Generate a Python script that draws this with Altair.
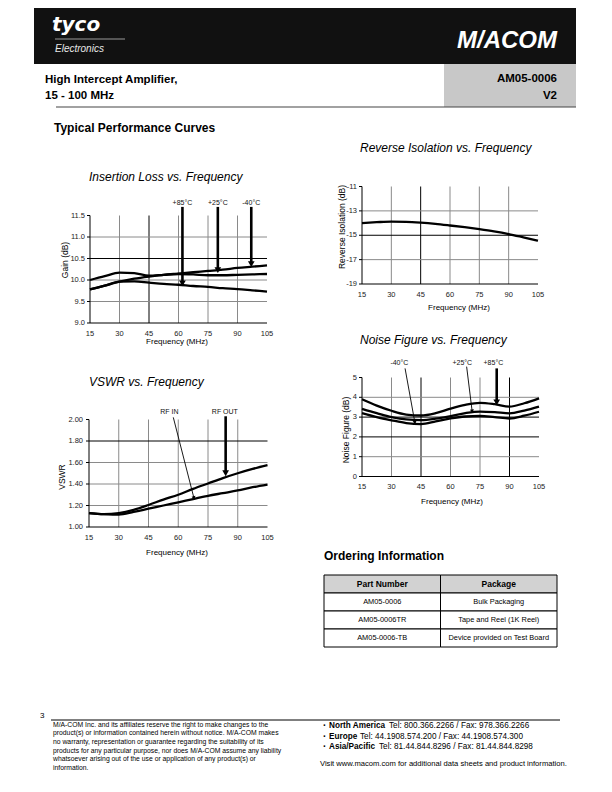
import math
import altair as alt
import pandas as pd

FONT = "Liberation Sans"
GRAY = "#8a8a8a"


def c(v):
    return v - 8


# ---------------- data ----------------
freq = [15, 22.5, 30, 37.5, 45, 52.5, 60, 67.5, 75, 82.5, 90, 97.5, 105]

il_m40 = [9.78, 9.87, 9.96, 10.03, 10.08, 10.12, 10.15, 10.18, 10.21, 10.24, 10.28, 10.31, 10.34]
il_p25 = [10.00, 10.09, 10.17, 10.16, 10.10, 10.12, 10.14, 10.13, 10.11, 10.11, 10.12, 10.13, 10.14]
il_p85 = [9.78, 9.87, 9.96, 9.97, 9.94, 9.91, 9.89, 9.86, 9.84, 9.81, 9.79, 9.76, 9.73]

ri_val = [-14.0, -13.93, -13.88, -13.9, -13.97, -14.07, -14.2, -14.34, -14.5, -14.68, -14.9, -15.17, -15.45]

vswr_out = [1.13, 1.12, 1.13, 1.16, 1.205, 1.255, 1.30, 1.355, 1.405, 1.455, 1.50, 1.54, 1.575]
vswr_in = [1.13, 1.12, 1.115, 1.14, 1.17, 1.20, 1.23, 1.26, 1.29, 1.315, 1.34, 1.37, 1.395]

nf_p85 = [3.90, 3.58, 3.32, 3.13, 3.08, 3.20, 3.43, 3.62, 3.72, 3.65, 3.53, 3.70, 3.95]
nf_p25 = [3.42, 3.20, 3.00, 2.88, 2.85, 2.92, 3.05, 3.20, 3.28, 3.25, 3.19, 3.33, 3.53]
nf_m40 = [3.20, 3.00, 2.84, 2.70, 2.65, 2.78, 2.93, 3.03, 3.06, 3.00, 2.93, 3.07, 3.27]

x_ticks = [15, 30, 45, 60, 75, 90, 105]
x_tick_labels = ["15", "30", "45", "60", "75", "90", "105"]

il_y_ticks = [11.5, 11.0, 10.5, 10.0, 9.5, 9.0]
il_y_labels = ["11.5", "11.0", "10.5", "10.0", "9.5", "9.0"]
ri_y_ticks = [-11, -13, -15, -17, -19]
ri_y_labels = ["-11", "-13", "-15", "-17", "-19"]
vs_y_ticks = [2.0, 1.8, 1.6, 1.4, 1.2, 1.0]
vs_y_labels = ["2.00", "1.80", "1.60", "1.40", "1.20", "1.00"]
nf_y_ticks = [5, 4, 3, 2, 1, 0]
nf_y_labels = ["5", "4", "3", "2", "1", "0"]

tbl_cols = ["Part Number", "Package"]
tbl_parts = ["AM05-0006", "AM05-0006TR", "AM05-0006-TB"]
tbl_pkgs = ["Bulk Packaging", "Tape and Reel (1K Reel)", "Device provided on Test Board"]


# ---------------- helpers ----------------
def one():
    return pd.DataFrame({"t": [""]})


def txt(s, x, y, size=8, weight="normal", style="normal", align="left",
        color="#000", angle=None, baseline="middle", font=FONT, line_height=None):
    kw = dict(align=align, baseline=baseline, fontSize=size, fontWeight=weight,
              fontStyle=style, color=color, font=font)
    if angle is not None:
        kw["angle"] = angle
    if line_height is not None:
        kw["lineHeight"] = line_height
        kw["lineBreak"] = "\n"
    return alt.Chart(pd.DataFrame({"t": [s]})).mark_text(**kw).encode(
        x=alt.value(c(x)), y=alt.value(c(y)), text="t:N")


def box(x0, y0, x1, y1, fill):
    return alt.Chart(one()).mark_rect(color=fill).encode(
        x=alt.value(c(x0)), x2=alt.value(c(x1)), y=alt.value(c(y0)), y2=alt.value(c(y1)))


def hline(x0, x1, y, color="#000", width=1):
    return alt.Chart(one()).mark_rule(color=color, strokeWidth=width).encode(
        x=alt.value(c(x0)), x2=alt.value(c(x1)), y=alt.value(c(y)))


def panel(px, ydom, yticks, ylabels, series, gv_gray, gv_dark, gh_gray, gh_dark,
          arrows, labels, ylab_dx=-5):
    x0, x1, ytop, ybot = px
    ymin, ymax = ydom
    xs = alt.Scale(domain=[15, 105], range=[c(x0), c(x1)], nice=False, zero=False)
    ys = alt.Scale(domain=[ymin, ymax], range=[c(ybot), c(ytop)], nice=False, zero=False)

    def X(f):
        return alt.X(f, type="quantitative", scale=xs, axis=None)

    def Y(f):
        return alt.Y(f, type="quantitative", scale=ys, axis=None)

    layers = []
    for vals, col in ((gv_gray, GRAY), (gv_dark, "#000")):
        if vals:
            d = pd.DataFrame({"x": vals, "ya": [ymin] * len(vals), "yb": [ymax] * len(vals)})
            layers.append(alt.Chart(d).mark_rule(color=col, strokeWidth=1).encode(
                x=X("x"), y=Y("ya"), y2="yb"))
    for vals, col in ((gh_gray, GRAY), (gh_dark, "#000")):
        if vals:
            d = pd.DataFrame({"y": vals, "xa": [15] * len(vals), "xb": [105] * len(vals)})
            layers.append(alt.Chart(d).mark_rule(color=col, strokeWidth=1).encode(
                x=X("xa"), x2="xb", y=Y("y")))
    # axis lines
    ax = pd.DataFrame({"xa": [15, 15], "xb": [15, 105], "ya": [ymin, ymin], "yb": [ymax, ymin]})
    layers.append(alt.Chart(ax).mark_rule(color="#000", strokeWidth=1).encode(
        x=X("xa"), x2="xb", y=Y("ya"), y2="yb"))
    # left ticks
    tk = pd.DataFrame({"y": yticks, "xa": [15] * len(yticks), "lab": ylabels})
    layers.append(alt.Chart(tk).mark_rule(color="#000", strokeWidth=1, xOffset=-3).encode(
        x=X("xa"), x2="xa", y=Y("y")))
    layers.append(alt.Chart(tk).mark_text(align="right", baseline="middle", dx=ylab_dx,
                                          fontSize=7.5, font=FONT, color="#222").encode(
        x=X("xa"), y=Y("y"), text="lab:N"))
    xt = pd.DataFrame({"x": x_ticks, "lab": x_tick_labels, "ya": [ymin] * len(x_ticks)})
    layers.append(alt.Chart(xt).mark_text(align="center", baseline="middle", dy=10.5,
                                          fontSize=7.5, font=FONT, color="#222").encode(
        x=X("x"), y=Y("ya"), text="lab:N"))
    # curves
    rows = []
    for name, vals in series:
        for f, v in zip(freq, vals):
            rows.append({"f": f, "v": v, "s": name})
    layers.append(alt.Chart(pd.DataFrame(rows)).mark_line(
        color="#000", strokeWidth=2.3, interpolate="monotone").encode(
        x=X("f"), y=Y("v"), detail="s:N"))
    # arrows
    sx = (x1 - x0) / 90.0
    sy = (ybot - ytop) / (ymax - ymin)
    for (xa, ya, xb, yb, thick) in arrows:
        d = pd.DataFrame({"xa": [xa], "ya": [ya], "xb": [xb], "yb": [yb]})
        layers.append(alt.Chart(d).mark_rule(color="#000", strokeWidth=2.6 if thick else 0.9).encode(
            x=X("xa"), x2="xb", y=Y("ya"), y2="yb"))
        dxp = (xb - xa) * sx
        dyp = -(yb - ya) * sy
        ang = (-math.degrees(math.atan2(dxp, dyp))) % 360
        layers.append(alt.Chart(d).mark_point(shape="triangle-down", filled=True, color="#000",
                                              opacity=1, size=45 if thick else 16,
                                              angle=ang).encode(x=X("xb"), y=Y("yb")))
    if labels:
        d = pd.DataFrame({"x": [l[0] for l in labels], "y": [l[1] for l in labels],
                          "t": [l[2] for l in labels]})
        layers.append(alt.Chart(d).mark_text(fontSize=7, font=FONT, color="#111",
                                             align="center", baseline="middle").encode(
            x=X("x"), y=Y("y"), text="t:N"))
    return alt.layer(*layers)


# ---------------- panels ----------------
p_il = panel((90, 267, 215.5, 323), (9.0, 11.5), il_y_ticks, il_y_labels,
             [("-40°C", il_m40), ("+25°C", il_p25), ("+85°C", il_p85)],
             [30, 60, 75, 90], [45], [11.0, 10.0, 9.5], [10.5],
             [(62, 11.7, 62, 9.92, True), (80, 11.7, 80, 10.23, True), (97, 11.7, 97, 10.37, True)],
             [(62, 11.8, "+85°C"), (80, 11.8, "+25°C"), (97, 11.8, "-40°C")])

p_ri = panel((362, 538, 186.5, 284), (-19, -11), ri_y_ticks, ri_y_labels,
             [("S12", ri_val)],
             [30, 60, 75, 90], [45], [-13, -17], [-15], [], [])

p_vs = panel((89, 267.5, 419.5, 527), (1.0, 2.0), vs_y_ticks, vs_y_labels,
             [("RF OUT", vswr_out), ("RF IN", vswr_in)],
             [30, 45, 60, 75, 90], [], [1.6, 1.4, 1.2], [1.8],
             [(57.5, 2.02, 67.9, 1.27, False), (83.9, 2.03, 83.9, 1.50, True)],
             [(55.5, 2.07, "RF IN"), (83.5, 2.07, "RF OUT")], ylab_dx=-6)

p_nf = panel((362, 539, 377.5, 476.5), (0, 5), nf_y_ticks, nf_y_labels,
             [("+85°C", nf_p85), ("+25°C", nf_p25), ("-40°C", nf_m40)],
             [30, 60, 75], [45, 90], [4, 1], [3, 2],
             [(36.9, 5.46, 41.9, 2.72, False), (68.2, 5.55, 71.0, 3.30, False),
              (83.5, 5.46, 83.5, 3.74, True)],
             [(34.0, 5.72, "-40°C"), (66.0, 5.72, "+25°C"), (81.8, 5.72, "+85°C")])

panel_text = [
    txt("Insertion Loss vs. Frequency", 89, 177, size=12, style="italic"),
    txt("Reverse Isolation vs. Frequency", 360, 148, size=12, style="italic"),
    txt("VSWR vs. Frequency", 89, 382, size=12, style="italic"),
    txt("Noise Figure vs. Frequency", 360, 340, size=12, style="italic"),
    txt("Gain (dB)", 65, 260, size=8.5, angle=270, align="center"),
    txt("Reverse Isolation (dB)", 342, 227, size=8.5, angle=270, align="center"),
    txt("VSWR", 62, 477, size=8.5, angle=270, align="center"),
    txt("Noise Figure (dB)", 346, 430, size=8.5, angle=270, align="center"),
    txt("Frequency (MHz)", 177, 342, size=8, align="center"),
    txt("Frequency (MHz)", 459, 308, size=8, align="center"),
    txt("Frequency (MHz)", 177, 553, size=8, align="center"),
    txt("Frequency (MHz)", 452, 502, size=8, align="center"),
]

# ---------------- table ----------------
tbl_rows = ["hdr"] + tbl_parts
txs = alt.Scale(domain=tbl_cols, range=[c(324), c(557)], paddingInner=0, paddingOuter=0)
tys = alt.Scale(domain=tbl_rows, range=[c(575), c(647)], paddingInner=0, paddingOuter=0)
hdr_df = pd.DataFrame({"col": tbl_cols, "row": ["hdr", "hdr"], "t": tbl_cols})
body_rows = []
for p, k in zip(tbl_parts, tbl_pkgs):
    body_rows.append({"col": tbl_cols[0], "row": p, "t": p})
    body_rows.append({"col": tbl_cols[1], "row": p, "t": k})
body_df = pd.DataFrame(body_rows)
TX = alt.X("col:N", scale=txs, axis=None, sort=None)
TY = alt.Y("row:N", scale=tys, axis=None, sort=None)
table = alt.layer(
    alt.Chart(hdr_df).mark_rect(fill="#d2d2d2", stroke="#000", strokeWidth=1).encode(x=TX, y=TY),
    alt.Chart(body_df).mark_rect(fill="#ffffff", stroke="#000", strokeWidth=1).encode(x=TX, y=TY),
    alt.Chart(hdr_df).mark_text(fontSize=8.5, fontWeight="bold", font=FONT, color="#000",
                                baseline="middle").encode(x=TX, y=TY, text="t:N"),
    alt.Chart(body_df).mark_text(fontSize=7.4, font=FONT, color="#000",
                                 baseline="middle").encode(x=TX, y=TY, text="t:N"),
)

# ---------------- page furniture ----------------
header = [
    box(34, 0, 576, 64, "#111111"),
    box(444, 64, 576, 107, "#c8c8c8"),
    hline(56, 576, 107, color="#444", width=1.2),
    txt("tyco", 52, 25, size=20, weight="bold", style="italic", color="#fff", font="DejaVu Sans"),
    hline(55, 125, 39, color="#9a9a9a", width=1),
    txt("Electronics", 55, 49, size=10, style="italic", color="#e8e8e8"),
    txt("M/ACOM", 557, 41, size=24, weight="bold", style="italic", color="#fff", align="right"),
    txt("High Intercept Amplifier,", 45, 80, size=11.5, weight="bold"),
    txt("15 - 100 MHz", 45, 96, size=11.5, weight="bold"),
    txt("AM05-0006", 557, 79, size=11.5, weight="bold", align="right"),
    txt("V2", 557, 96, size=11.5, weight="bold", align="right"),
    txt("Typical Performance Curves", 54, 128, size=12, weight="bold"),
    txt("Ordering Information", 324, 556, size=12, weight="bold"),
]

legal = ("M/A-COM Inc. and its affiliates reserve the right to make changes to the\n"
         "product(s) or information contained herein without notice. M/A-COM makes\n"
         "no warranty, representation or guarantee regarding the suitability of its\n"
         "products for any particular purpose, nor does M/A-COM assume any liability\n"
         "whatsoever arising out of the use or application of any product(s) or\n"
         "information.")

footer = [
    txt("3", 40, 716, size=8),
    hline(51, 560, 720, color="#000", width=1),
    txt(legal, 53, 721.5, size=6.8, baseline="top", line_height=8.7),
    txt("·", 323, 726, size=10, weight="bold"),
    txt("·", 323, 736.5, size=10, weight="bold"),
    txt("·", 323, 747, size=10, weight="bold"),
    txt("North America", 329, 726, size=8.2, weight="bold"),
    txt("Tel: 800.366.2266 / Fax: 978.366.2266", 389, 726, size=8.2),
    txt("Europe", 329, 736.5, size=8.2, weight="bold"),
    txt("Tel: 44.1908.574.200 / Fax: 44.1908.574.300", 360, 736.5, size=8.2),
    txt("Asia/Pacific", 329, 747, size=8.2, weight="bold"),
    txt("Tel: 81.44.844.8296 / Fax: 81.44.844.8298", 379, 747, size=8.2),
    txt("Visit www.macom.com for additional data sheets and product information.", 320, 764, size=7.6),
]

chart = alt.layer(
    *header, p_il, p_ri, p_vs, p_nf, *panel_text, table, *footer
).resolve_scale(x="independent", y="independent").properties(
    width=596, height=776, padding=0, autosize=alt.AutoSizeParams(type="none"),
    background="#ffffff"
).configure_view(stroke=None)

chart.save("out.html", embed_options={"renderer": "svg", "actions": False})
